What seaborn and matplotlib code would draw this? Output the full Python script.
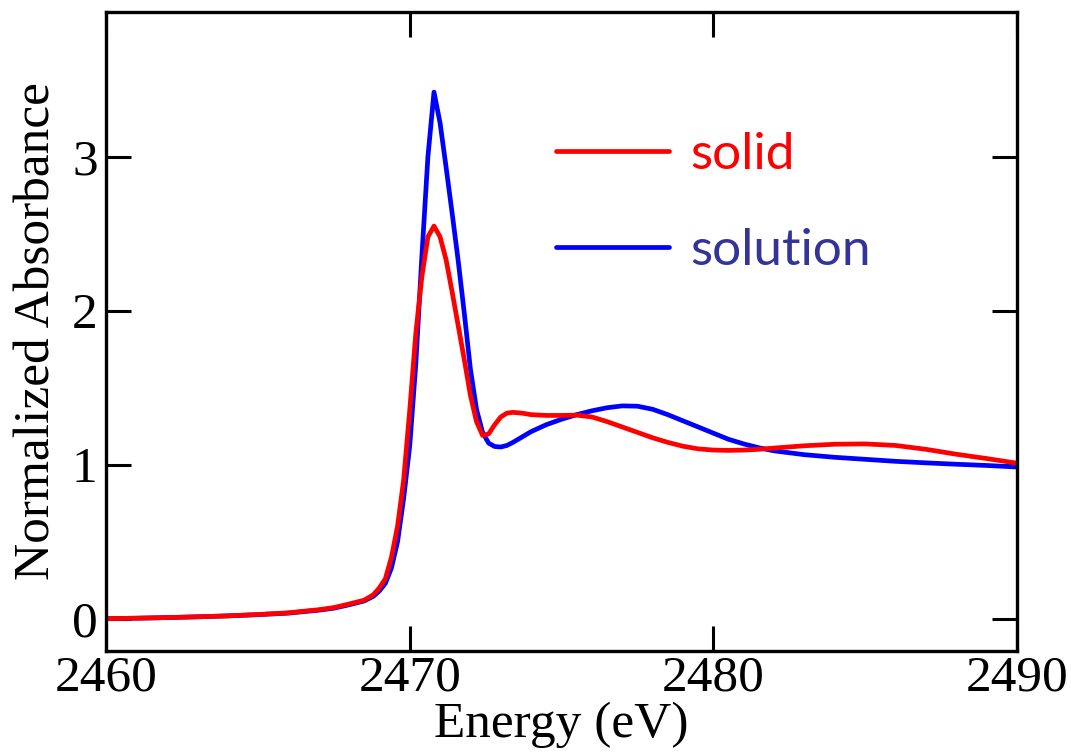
import numpy as np
import pandas as pd
import seaborn as sns
import matplotlib.pyplot as plt
from matplotlib.lines import Line2D

# Dados (energia em eV, absorbância normalizada)
energia = [2460, 2461, 2462, 2463, 2464, 2465, 2466, 2467, 2467.5, 2468,
           2468.5, 2468.8, 2469.0, 2469.2, 2469.4, 2469.6, 2469.8, 2470.0,
           2470.2, 2470.4, 2470.6, 2470.8, 2471.0, 2471.2, 2471.4, 2471.6,
           2471.8, 2472.0, 2472.2, 2472.4, 2472.6, 2472.8, 2473.0, 2473.2,
           2473.4, 2473.7, 2474.0, 2474.5, 2475, 2475.5, 2476, 2476.5, 2477,
           2477.5, 2478, 2478.5, 2479, 2479.5, 2480, 2480.5, 2481, 2481.5,
           2482, 2483, 2484, 2485, 2486, 2487, 2488, 2489, 2490]

solido = [0.0, 0.003, 0.007, 0.012, 0.018, 0.027, 0.038, 0.058, 0.072, 0.095,
          0.12, 0.155, 0.20, 0.26, 0.40, 0.60, 0.90, 1.35,
          1.85, 2.22, 2.48, 2.55, 2.48, 2.33, 2.12, 1.90,
          1.68, 1.45, 1.28, 1.19, 1.20, 1.26, 1.31, 1.335,
          1.34, 1.335, 1.325, 1.32, 1.32, 1.322, 1.31, 1.28, 1.245,
          1.21, 1.175, 1.145, 1.12, 1.103, 1.095, 1.093, 1.095, 1.10,
          1.108, 1.123, 1.133, 1.135, 1.125, 1.10, 1.068, 1.04, 1.01]

solucao = [0.0, 0.003, 0.007, 0.012, 0.018, 0.026, 0.036, 0.055, 0.068, 0.09,
           0.115, 0.145, 0.18, 0.23, 0.33, 0.50, 0.78, 1.12,
           1.65, 2.35, 3.00, 3.42, 3.22, 2.93, 2.63, 2.32,
           1.98, 1.62, 1.36, 1.21, 1.14, 1.118, 1.115, 1.125,
           1.145, 1.18, 1.215, 1.26, 1.295, 1.325, 1.35, 1.37, 1.382,
           1.38, 1.36, 1.325, 1.285, 1.245, 1.205, 1.165, 1.135, 1.11,
           1.09, 1.065, 1.048, 1.035, 1.022, 1.012, 1.003, 0.995, 0.985]

rotulos = ["solid", "solution"]
cores = {"solid": "#ff0000", "solution": "#0000ff"}
cores_texto = {"solid": "#ff0000", "solution": "#333399"}

df = pd.DataFrame({
    "energia": energia * 2,
    "absorbancia": solido + solucao,
    "amostra": [rotulos[0]] * len(energia) + [rotulos[1]] * len(energia),
})

sns.set_style("ticks")
plt.rcParams["font.family"] = ["Liberation Serif", "DejaVu Serif"]
plt.rcParams["text.color"] = "black"
plt.rcParams["axes.labelcolor"] = "black"

fig = plt.figure(figsize=(10.71, 7.52), dpi=100)
ax = fig.add_axes([0.099, 0.1343, 0.8506, 0.8497])

sns.lineplot(data=df, x="energia", y="absorbancia", hue="amostra",
             hue_order=rotulos[::-1], palette=cores, linewidth=3.4,
             ax=ax, legend=False)

ax.set_xlim(2460, 2490)
ax.set_ylim(-0.21, 3.94)
ax.set_xticks([2460, 2470, 2480, 2490])
ax.set_yticks([0, 1, 2, 3])
ax.set_xlabel("Energy (eV)", fontsize=37, labelpad=0)
ax.set_ylabel("Normalized Absorbance", fontsize=37, labelpad=8)

ax.tick_params(direction="in", length=18, width=2.2, labelsize=37,
               top=True, right=True, colors="black")
ax.tick_params(axis="x", pad=3)
ax.tick_params(axis="y", pad=6)
for s in ax.spines.values():
    s.set_linewidth(2.4)
    s.set_color("black")

# Legenda
handles = [Line2D([], [], color=cores[r], linewidth=3.4) for r in rotulos]
leg = ax.legend(handles, rotulos, loc="upper left",
                bbox_to_anchor=(0.494, 0.812), frameon=False,
                borderpad=0, borderaxespad=0,
                handlelength=2.2, handletextpad=0.42, labelspacing=0.97,
                prop={"family": "Lato", "size": 37})
for t, r in zip(leg.get_texts(), rotulos):
    t.set_color(cores_texto[r])

plt.savefig("out.png", dpi=100)
